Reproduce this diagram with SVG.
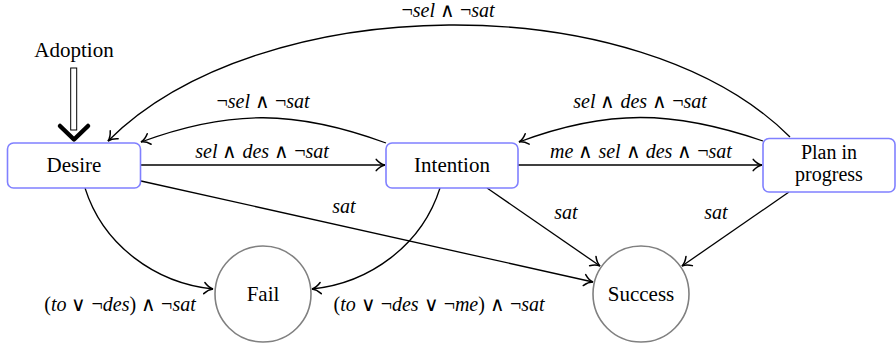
<svg xmlns="http://www.w3.org/2000/svg" width="896" height="346" viewBox="0 0 896 346">
  <style>
    .box { fill: #ffffff; stroke: #8080ff; stroke-width: 1.6; }
    .circ { fill: #ffffff; stroke: #808080; stroke-width: 1.6; }
    .txt { font-size: 21px; fill: #000; text-anchor: middle; }
    .lbl { font-size: 20px; font-style: italic; fill: #000; text-anchor: middle; }
    .op { font-style: normal; }
    .edge { fill: none; stroke: #000; stroke-width: 1.3; marker-end: url(#tip); }
  </style>
  <defs>
    <marker id="tip" markerUnits="userSpaceOnUse" orient="auto" markerWidth="14" markerHeight="14" viewBox="-9 -6 11 12" refX="0" refY="0" overflow="visible">
      <path d="M-7.5,-4.8 C-5,-2 -2,-0.4 0,0 C-2,0.4 -5,2 -7.5,4.8" fill="none" stroke="#000" stroke-width="1.3" stroke-linecap="round"/>
    </marker>
  </defs>

  <!-- connectors -->
  <g id="connectors">
    <!-- initial double arrow into Desire -->
    <rect x="70.7" y="68" width="6" height="62" fill="#fff" stroke="#000" stroke-width="1"/>
    <path d="M60,126 L74,139.5 L88,126" fill="none" stroke="#000" stroke-width="4.5" stroke-linecap="round" stroke-linejoin="round"/>

    <line class="edge" x1="141" y1="165" x2="385" y2="165"/>
    <line class="edge" x1="518" y1="165" x2="762" y2="165"/>
    <path class="edge" d="M386,143 C296,110 230,109 141,142"/>
    <path class="edge" d="M763,141 C673,110 607,109 519,142"/>
    <path class="edge" d="M790,137 C638,-15 260,-11 108,141"/>
    <path class="edge" d="M85,188 C103,245 155,283 213,289"/>
    <path class="edge" d="M440,188 C422,245 370,283 312,289"/>
    <line class="edge" x1="141" y1="181" x2="593" y2="282"/>
    <line class="edge" x1="487" y1="188" x2="600" y2="266"/>
    <line class="edge" x1="789" y1="192" x2="682" y2="266"/>

    <!-- edge labels -->
    <g font-family="Liberation Serif, serif">
      <text class="lbl" x="448" y="17"><tspan class="op">¬</tspan>sel <tspan class="op">∧ ¬</tspan>sat</text>
      <text class="lbl" x="263" y="108"><tspan class="op">¬</tspan>sel <tspan class="op">∧ ¬</tspan>sat</text>
      <text class="lbl" x="262" y="158">sel <tspan class="op">∧</tspan> des <tspan class="op">∧ ¬</tspan>sat</text>
      <text class="lbl" x="640" y="108">sel <tspan class="op">∧</tspan> des <tspan class="op">∧ ¬</tspan>sat</text>
      <text class="lbl" x="641" y="158">me <tspan class="op">∧</tspan> sel <tspan class="op">∧</tspan> des <tspan class="op">∧ ¬</tspan>sat</text>
      <text class="lbl" x="344" y="213">sat</text>
      <text class="lbl" x="566" y="219">sat</text>
      <text class="lbl" x="716" y="219">sat</text>
      <text class="lbl" x="120" y="311"><tspan class="op">(</tspan>to <tspan class="op">∨ ¬</tspan>des<tspan class="op">) ∧ ¬</tspan>sat</text>
      <text class="lbl" x="439" y="311"><tspan class="op">(</tspan>to <tspan class="op">∨ ¬</tspan>des <tspan class="op">∨ ¬</tspan>me<tspan class="op">) ∧ ¬</tspan>sat</text>
    </g>
  </g>

  <g font-family="Liberation Serif, serif">
    <g id="adoption">
      <text class="txt" x="74" y="57">Adoption</text>
    </g>

    <g id="desire">
      <rect class="box" x="7.5" y="143" width="133" height="45" rx="6"/>
      <text class="txt" x="74" y="172">Desire</text>
    </g>

    <g id="intention">
      <rect class="box" x="386" y="143" width="132" height="45" rx="6"/>
      <text class="txt" x="452" y="172">Intention</text>
    </g>

    <g id="plan">
      <rect class="box" x="763" y="138.5" width="132" height="53.5" rx="6"/>
      <text class="txt" x="829" y="158.5" style="font-size:20px">Plan in</text>
      <text class="txt" x="829" y="181" style="font-size:20px">progress</text>
    </g>

    <g id="fail">
      <circle class="circ" cx="263" cy="294" r="48"/>
      <text class="txt" x="263" y="301">Fail</text>
    </g>

    <g id="success">
      <circle class="circ" cx="641" cy="294" r="48"/>
      <text class="txt" x="641" y="301">Success</text>
    </g>
  </g>
</svg>
